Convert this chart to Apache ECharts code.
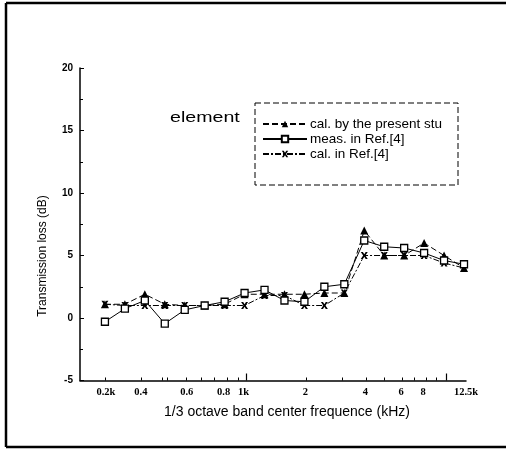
<!DOCTYPE html>
<html><head><meta charset="utf-8">
<script src="https://cdn.jsdelivr.net/npm/echarts@6/dist/echarts.min.js"></script>
<style>html,body{margin:0;padding:0;background:#fff}#c{width:508px;height:452px}</style>
</head><body><div id="c"></div>
<script>
// 1/3 octave band centre frequencies (Hz), plotted at their band index
var bands = ['200','250','315','400','500','630','800','1000','1250','1600','2000','2500','3150','4000','5000','6300','8000','10000','12500'];
var calPresent = [1.1, 1.1, 1.9, 1.1, 1.0, 1.0, 1.1, 1.9, 1.9, 1.9, 1.9, 2.0, 2.0, 7.0, 5.0, 5.0, 6.0, 5.0, 4.0];
var measRef    = [-0.3, 0.75, 1.4, -0.45, 0.65, 1.0, 1.3, 2.0, 2.25, 1.4, 1.3, 2.5, 2.7, 6.2, 5.7, 5.6, 5.2, 4.6, 4.3];
var calRef     = [1.1, 1.0, 1.0, 1.0, 1.0, 1.0, 1.0, 1.0, 1.8, 1.8, 1.0, 1.0, 2.0, 5.0, 5.0, 5.0, 5.0, 4.4, 4.0];
var seriesNames = ['cal. by the present stu', 'meas. in Ref.[4]', 'cal. in Ref.[4]'];
var xTickLabels = ['0.2k', '0.4', '0.6', '0.8', '1k', '2', '4', '6', '8', '12.5k'];
var xTickAt     = [0.05, 1.8, 4.1, 5.95, 6.95, 10.05, 13.05, 14.85, 15.95, 18.1];
var xMinorAt    = [0, 1.8, 2.85, 3.1, 4.1, 4.85, 5.5, 6.15, 6.7, 10.1, 11.9, 13.1, 14.0, 14.9, 15.5, 16.1, 16.6];
var xMajorAt    = [7.1, 17.1];

function pts(arr){ return arr.map(function(v,i){ return [bands.indexOf(bands[i]), v]; }); }
var xMark = 'path://M0,0 L3,0 L5,3.2 L7,0 L10,0 L6.6,5 L10,10 L7,10 L5,6.8 L3,10 L0,10 L3.4,5 Z';

var chart = echarts.init(document.getElementById('c'), null, {renderer:'canvas'});
var lbl = {};
xTickAt.forEach(function(p,i){ lbl[p] = xTickLabels[i]; });

chart.setOption({
  animation: false,
  backgroundColor: '#fff',
  grid: {left: 80, right: 42, top: 68, bottom: 71.5},
  xAxis: [{
    type: 'value', min: -1.25, max: 18.1,
    axisLine: {onZero: false, lineStyle: {color: '#000', width: 1.5}},
    axisTick: {inside: true, length: 3, customValues: xMinorAt, lineStyle: {color: '#000'}},
    axisLabel: {customValues: xTickAt, color: '#000', fontFamily: 'Liberation Serif', fontWeight: 'bold', fontSize: 10.5, margin: 6,
      formatter: function(v){ for (var k in lbl) { if (Math.abs(+k - v) < 1e-6) return lbl[k]; } return ''; }},
    splitLine: {show: false}
  },{
    type: 'value', min: -1.25, max: 18.1, position: 'bottom',
    axisLine: {show: false, onZero: false},
    axisTick: {inside: true, length: 7, customValues: xMajorAt, lineStyle: {color: '#000', width: 1.2}},
    axisLabel: {show: false}, splitLine: {show: false}
  }],
  yAxis: {
    type: 'value', min: -5, max: 20, interval: 5,
    axisLine: {show: true, onZero: false, lineStyle: {color: '#000', width: 1.5}},
    axisTick: {show: true, inside: true, length: 4, lineStyle: {color: '#000'}},
    minorTick: {show: true, splitNumber: 2, length: 3, lineStyle: {color: '#000'}},
    axisLabel: {color: '#000', fontFamily: 'Liberation Sans', fontWeight: 'bold', fontSize: 10, margin: 7},
    splitLine: {show: false}
  },
  legend: {
    data: seriesNames, orient: 'vertical', left: 257, top: 112,
    itemWidth: 44, itemHeight: 8, itemGap: 1,
    textStyle: {color: '#000', fontFamily: 'Liberation Sans', fontSize: 13.5, lineHeight: 14, padding: [0,0,0,-2]}
  },
  graphic: [
    {type: 'line', shape: {x1: 6, y1: 3, x2: 506, y2: 3}, style: {stroke: '#000', lineWidth: 2.5}},
    {type: 'line', shape: {x1: 6, y1: 3, x2: 6, y2: 447}, style: {stroke: '#000', lineWidth: 2.5}},
    {type: 'line', shape: {x1: 6, y1: 447, x2: 506, y2: 447}, style: {stroke: '#000', lineWidth: 2.5}},
    {type: 'rect', shape: {x: 255, y: 103, width: 203, height: 82}, style: {fill: null, stroke: '#000', lineWidth: 1, lineDash: [6, 3]}},
    {type: 'text', x: 170, y: 118, scaleX: 1.4, style: {text: 'element', fill: '#000', font: '14px "Liberation Sans"', textVerticalAlign: 'middle'}},
    {type: 'text', x: 43, y: 256, rotation: Math.PI/2, style: {text: 'Transmission loss (dB)', fill: '#000', font: '12px "Liberation Sans"', textAlign: 'center', textVerticalAlign: 'middle'}},
    {type: 'text', x: 287, y: 412, style: {text: '1/3 octave band center frequence (kHz)', fill: '#000', font: '14px "Liberation Sans"', textAlign: 'center', textVerticalAlign: 'middle'}}
  ],
  series: [
    {name: seriesNames[0], type: 'line', data: pts(calPresent), z: 3,
     symbol: 'triangle', symbolSize: 8, itemStyle: {color: '#000'},
     lineStyle: {color: '#000', width: 1, type: [6, 3]}},
    {name: seriesNames[2], type: 'line', data: pts(calRef), z: 4,
     symbol: xMark, symbolSize: 7, itemStyle: {color: '#000'},
     lineStyle: {color: '#000', width: 1, type: [6, 2, 2, 2]}},
    {name: seriesNames[1], type: 'line', data: pts(measRef), z: 5,
     symbol: 'rect', symbolSize: 7, itemStyle: {color: '#fff', borderColor: '#000', borderWidth: 1.3},
     lineStyle: {color: '#000', width: 1}}
  ]
});
</script></body></html>
